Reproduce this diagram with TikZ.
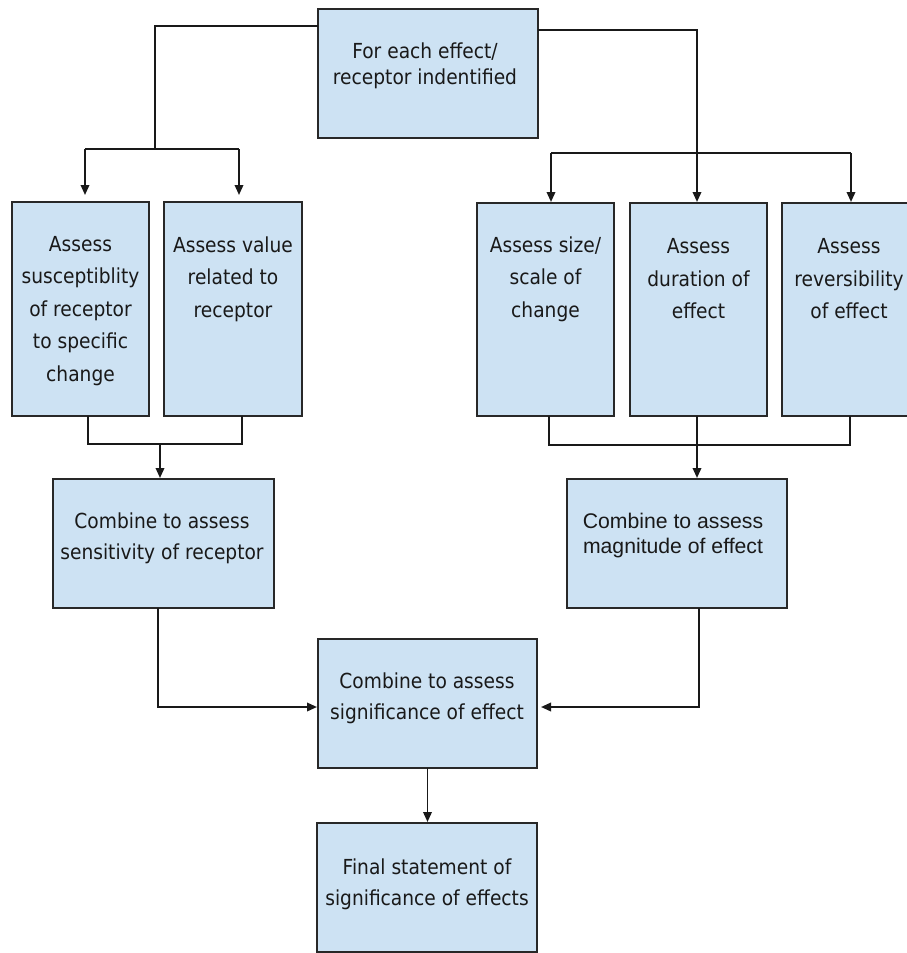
\documentclass[tikz,border=0pt]{standalone}
\usepackage{fontspec}
\setmainfont{DejaVu Sans}[FakeStretch=0.9]
\newfontfamily\arialish{Liberation Sans}
\usetikzlibrary{arrows.meta}
\definecolor{boxfill}{RGB}{205,226,243}
\definecolor{boxline}{RGB}{40,40,40}
\definecolor{inkc}{RGB}{25,25,25}
\tikzset{
  box/.style={draw=boxline, fill=boxfill, line width=2pt, rectangle, inner sep=0pt, outer sep=0pt, anchor=north west},
  txt/.style={align=center, text=inkc, inner sep=0pt},
  conn/.style={draw=inkc, line width=1.9pt},
  arr/.style={conn, -{Triangle[length=10pt,width=8.5pt]}},
}
\begin{document}
\begin{tikzpicture}[x=1pt,y=-1pt]
\clip (0,0) rectangle (907,953);
\fill[white] (0,0) rectangle (907,953);
% boxes
\node[box, minimum width=220pt, minimum height=129pt] (top) at (318,9) {};
\node[box, minimum width=137pt, minimum height=214pt] (A1) at (12,202) {};
\node[box, minimum width=138pt, minimum height=214pt] (A2) at (164,202) {};
\node[box, minimum width=137pt, minimum height=213pt] (B1) at (477,203) {};
\node[box, minimum width=137pt, minimum height=213pt] (B2) at (630,203) {};
\node[box, minimum width=140pt, minimum height=213pt] (B3) at (782,203) {};
\node[box, minimum width=221pt, minimum height=129pt] (C1) at (53,479) {};
\node[box, minimum width=220pt, minimum height=129pt] (C2) at (567,479) {};
\node[box, minimum width=219pt, minimum height=129pt] (D) at (318,639) {};
\node[box, minimum width=220pt, minimum height=129pt] (E) at (317,823) {};
% texts
\node[txt, font=\fontsize{20.7}{26}\selectfont] (topt) at (425,66) {For each effect/\\receptor indentified};
\node[txt, font=\fontsize{20.7}{32.5}\selectfont] (A1t) at (80.5,311) {Assess\\susceptiblity\\of receptor\\to specific\\change};
\node[txt, font=\fontsize{20.7}{32.5}\selectfont] (A2t) at (233,279) {Assess value\\related to\\receptor};
\node[txt, font=\fontsize{20.7}{32.5}\selectfont] (B1t) at (545.5,279) {Assess size/\\scale of\\change};
\node[txt, font=\fontsize{20.7}{32.5}\selectfont] (B2t) at (698.5,279) {Assess\\duration of\\effect};
\node[txt, font=\fontsize{20.7}{32.5}\selectfont] (B3t) at (849,279) {Assess\\reversibility\\of effect};
\node[txt, font=\fontsize{20.7}{31}\selectfont] (C1t) at (162,538) {Combine to assess\\sensitivity of receptor};
\node[txt, font=\arialish\fontsize{21.2}{25}\selectfont] (C2t) at (673,536) {Combine to assess\\magnitude of effect};
\node[txt, font=\fontsize{20.7}{31}\selectfont] (Dt) at (427,698) {Combine to assess\\significance of effect};
\node[txt, font=\fontsize{20.7}{31}\selectfont] (Et) at (427,884) {Final statement of\\significance of effects};
% junction coordinates
\coordinate (lt) at (155,26);
\coordinate (lj) at (155,149);
\coordinate (la) at (85,149);
\coordinate (lb) at (239,149);
\coordinate (rt) at (697,30);
\coordinate (ra) at (551,153);
\coordinate (rb) at (851,153);
\coordinate (lc) at (88,444);
\coordinate (ld) at (242,444);
\coordinate (le) at (160,444);
\coordinate (rc) at (549,445);
\coordinate (rd) at (850,445);
\coordinate (re) at (697,445);
\coordinate (lf) at (158,707);
\coordinate (rf) at (699,707);
% connectors
\draw[conn] (top.west |- lt) -- (lt) -- (lj);
\draw[conn] (la) -- (lb);
\draw[arr, shorten >=7pt] (la) -- (la |- A1.north);
\draw[arr, shorten >=7pt] (lb) -- (lb |- A2.north);
\draw[arr, shorten >=1pt] (top.east |- rt) -- (rt) -- (rt |- B2.north);
\draw[conn] (ra) -- (rb);
\draw[arr, shorten >=1pt] (ra) -- (ra |- B1.north);
\draw[arr, shorten >=1pt] (rb) -- (rb |- B3.north);
\draw[conn] (lc |- A1.south) -- (lc) -- (ld) -- (ld |- A2.south);
\draw[arr, shorten >=1pt] (le) -- (le |- C1.north);
\draw[conn] (rc |- B1.south) -- (rc) -- (rd) -- (rd |- B3.south);
\draw[arr, shorten >=1pt] (re |- B2.south) -- (re |- C2.north);
\draw[arr, shorten >=1pt] (lf |- C1.south) -- (lf) -- (lf -| D.west);
\draw[arr, shorten >=4pt] (rf |- C2.south) -- (rf) -- (rf -| D.east);
\draw[arr, shorten >=1pt] (D.south) -- (D.south |- E.north);
\end{tikzpicture}
\end{document}
